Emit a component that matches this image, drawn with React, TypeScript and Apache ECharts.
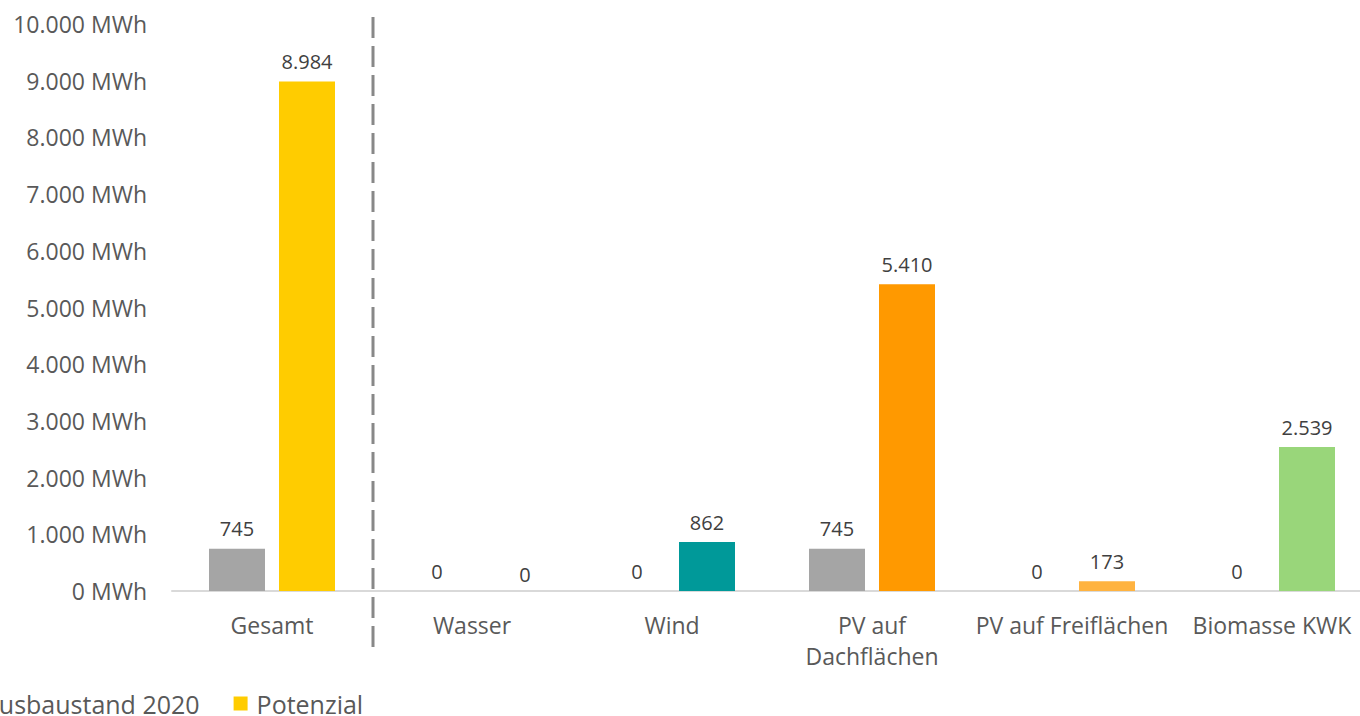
import React, { useEffect, useRef } from "react";
import * as echarts from "echarts";

const categories = ["Gesamt", "Wasser", "Wind", "PV auf\nDachflächen", "PV auf Freiflächen", "Biomasse KWK"];
const ausbaustand = [745, 0, 0, 745, 0, 0];
const potenzial = [8984, 0, 862, 5410, 173, 2539];
const potenzialColors = ["#FFCC00", "#FFCC00", "#009999", "#FF9900", "#FFB340", "#99D67A"];
const seriesNames = ["Ausbaustand 2020", "Potenzial"];
const yMax = 10000;
const yInterval = 1000;

const fmt = (v: number) => String(Math.round(v)).replace(/\B(?=(\d{3})+(?!\d))/g, ".");

export default function App() {
  const ref = useRef<HTMLDivElement>(null);
  useEffect(() => {
    if (!ref.current) return;
    const chart = echarts.init(ref.current, undefined, { renderer: "svg" });
    const font = "'Open Sans', 'Noto Sans', sans-serif";
    const labelStyle = {
      show: true,
      position: "top" as const,
      distance: 10,
      color: "#404040",
      fontSize: 20,
      fontFamily: font,
      formatter: (p: any) => fmt(p.value),
    };
    chart.setOption({
      animation: false,
      backgroundColor: "#ffffff",
      textStyle: { fontFamily: font },
      grid: { left: 172, top: 24, width: 1200, height: 567 },
      legend: {
        data: seriesNames,
        left: -45,
        top: 686,
        itemWidth: 14,
        itemHeight: 14,
        itemGap: 34,
        icon: "rect",
        textStyle: { color: "#595959", fontSize: 25, fontFamily: font, padding: [0, 0, 0, 4] },
      },
      xAxis: {
        type: "category",
        data: categories,
        axisLine: { show: true, lineStyle: { color: "#D9D9D9", width: 2 } },
        axisTick: { show: false },
        axisLabel: { color: "#595959", fontSize: 23, fontFamily: font, margin: 18, lineHeight: 31, interval: 0 },
      },
      yAxis: {
        type: "value",
        min: 0,
        max: yMax,
        interval: yInterval,
        axisLine: { show: false },
        axisTick: { show: false },
        splitLine: { show: false },
        axisLabel: {
          color: "#595959",
          fontSize: 23,
          fontFamily: font,
          margin: 25,
          formatter: (v: number) => fmt(v) + " MWh",
        },
      },
      series: [
        {
          name: seriesNames[0],
          type: "bar",
          data: ausbaustand,
          barWidth: 56,
          barGap: "25%",
          itemStyle: { color: "#A5A5A5" },
          label: labelStyle,
        },
        {
          name: seriesNames[1],
          type: "bar",
          barWidth: 56,
          itemStyle: { color: "#FFCC00" },
          data: potenzial.map((v, i) => ({
            value: v,
            itemStyle: { color: potenzialColors[i] },
            label: i === 1 ? { offset: [18, 3] } : undefined,
          })),
          label: labelStyle,
        },
      ],
      graphic: [
        {
          type: "line",
          shape: { x1: 373, y1: 17, x2: 373, y2: 651 },
          style: { stroke: "#888888", lineWidth: 3, lineDash: [21, 8] },
          silent: true,
        },
      ],
    });
    return () => chart.dispose();
  }, []);
  return (
    <div style={{ position: "absolute", left: 0, top: 0, width: 1360, height: 716, overflow: "hidden" }}>
      <div ref={ref} style={{ width: 1372, height: 716 }} />
    </div>
  );
}
